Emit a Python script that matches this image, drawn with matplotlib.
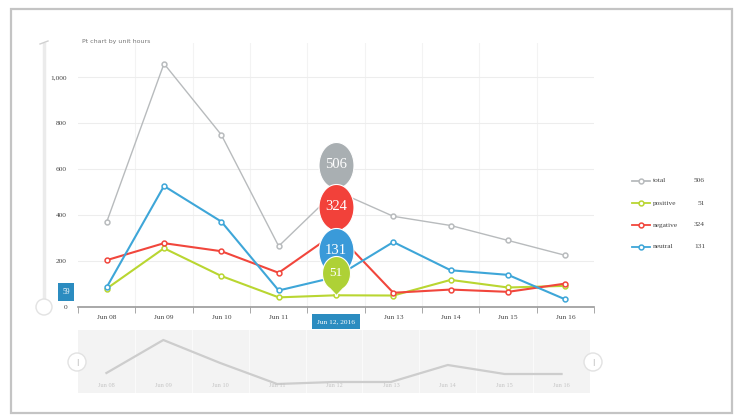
"""
Sentiment line chart with balloon tooltips and a navigator strip.
"""

import numpy as np
import matplotlib
matplotlib.use("Agg")
import matplotlib.pyplot as plt
from matplotlib.path import Path
from matplotlib.lines import Line2D
from matplotlib.patches import Rectangle, Ellipse

# ---- data ----
dates = ["Jun 08", "Jun 09", "Jun 10", "Jun 11", "Jun 12",
         "Jun 13", "Jun 14", "Jun 15", "Jun 16"]
total = [370, 1060, 750, 265, 506, 395, 355, 290, 225]
positive = [80, 256, 135, 42, 51, 50, 118, 85, 92]
negative = [204, 278, 243, 149, 324, 62, 76, 66, 102]
neutral = [86, 527, 372, 72, 131, 283, 160, 140, 33]
navigator = [400, 1060, 600, 180, 220, 220, 560, 380, 380]
y_ticks = [0, 200, 400, 600, 800, 1000]
y_labels = ["0", "200", "400", "600", "800", "1,000"]
hover_index = 4
hover_label = "Jun 12, 2016"
cursor_label = "59"
title = "Pt chart by unit hours"

series = [
    ("total", total, "#b8bbbd", "#a9afb2"),
    ("positive", positive, "#b9d631", "#aed136"),
    ("negative", negative, "#f1463c", "#f2413a"),
    ("neutral", neutral, "#3ea6d8", "#3a9ad9"),
]
balloon_order = ["total", "negative", "neutral", "positive"]

W, H = 739, 417
fig = plt.figure(figsize=(W / 100, H / 100), dpi=100, facecolor="white")


def fx(x):
    return x / W


def fy(y):
    return 1 - y / H


def handle(cx, cy, r, z=5):
    # round white knob, sized in pixels
    fig.patches.append(Ellipse((fx(cx), fy(cy)), 2 * r / W, 2 * r / H,
                               transform=fig.transFigure, facecolor="white",
                               edgecolor="#e2e2e2", linewidth=1, zorder=z))


# card frame
fig.patches.append(Rectangle((fx(11), fy(413)), fx(721), 404 / H,
                             transform=fig.transFigure, facecolor="white",
                             edgecolor="#c4c4c4", linewidth=1.6, zorder=-5))

serif = "Liberation Serif"

# ---- main chart ----
ax = fig.add_axes([fx(78), fy(307), fx(516), (307 - 43) / H])
ax.set_facecolor("none")
ax.set_xlim(-0.5, len(dates) - 0.5)
ax.set_ylim(0, 1150)
for side in ["top", "right", "left"]:
    ax.spines[side].set_visible(False)
ax.spines["bottom"].set_color("#9a9a9a")
ax.spines["bottom"].set_linewidth(1.2)
ax.set_yticks(y_ticks)
ax.set_yticklabels(y_labels, fontsize=5.3, family=serif, color="#444444")
ax.tick_params(axis="y", length=0, pad=8)
ax.set_xticks(range(len(dates)))
xl = list(dates)
xl[hover_index] = ""
ax.set_xticklabels(xl, fontsize=5.3, family=serif, color="#444444")
ax.tick_params(axis="x", which="major", length=0, pad=6)
ax.set_xticks(np.arange(-0.5, len(dates), 1), minor=True)
ax.tick_params(axis="x", which="minor", length=4, color="#9a9a9a")
ax.grid(axis="y", color="#ededed", linewidth=0.8)
for m in np.arange(0.5, len(dates) - 0.5, 1):
    ax.axvline(m, color="#f3f3f3", linewidth=0.8, zorder=0)

x = np.arange(len(dates))
for name, vals, color, _ in series:
    lw = 1.0 if name == "total" else 1.5
    ax.plot(x, vals, color=color, linewidth=lw, marker="o", markersize=3.5,
            markerfacecolor="white", markeredgecolor=color,
            markeredgewidth=1.1, zorder=3)


def balloon(rx, ry, c):
    th = np.radians(np.linspace(-62, 242, 80))
    verts = [(0, 0)] + list(zip(rx * np.cos(th), c + ry * np.sin(th))) + [(0, 0)]
    codes = [Path.MOVETO] + [Path.LINETO] * len(th) + [Path.CLOSEPOLY]
    return Path(verts, codes), 0.72 * 2 * (c + ry)


sizes = {"total": (17.5, 23, 26), "negative": (17.5, 23, 26),
         "neutral": (17.5, 23, 26), "positive": (14, 17, 22)}
lookup = {s[0]: s for s in series}
for name in balloon_order:
    _, vals, _, bcolor = lookup[name]
    rx, ry, c = sizes[name]
    path, ms = balloon(rx, ry, c)
    ax.plot([hover_index], [vals[hover_index]], marker=path, markersize=ms,
            markerfacecolor=bcolor, markeredgecolor="white",
            markeredgewidth=0.8, linestyle="none", zorder=5, clip_on=False)
    ax.annotate(str(vals[hover_index]), (hover_index, vals[hover_index]),
                xytext=(0, c * 0.72), textcoords="offset points",
                ha="center", va="center", color="white",
                fontsize=10.5 if name != "positive" else 9.5,
                family=serif, zorder=6)

ax.text(hover_index, -0.055, hover_label, transform=ax.get_xaxis_transform(),
        ha="center", va="center", fontsize=5.3, family=serif, color="white",
        bbox=dict(boxstyle="square,pad=0.7", facecolor="#2b8cc0",
                  edgecolor="none"), clip_on=False)

fig.text(fx(66), fy(292), cursor_label, ha="center", va="center",
         fontsize=5.5, family=serif, color="white",
         bbox=dict(boxstyle="square,pad=0.6", facecolor="#2b8cc0",
                   edgecolor="none"))

fig.text(fx(82), fy(41), title, fontsize=4.5, color="#777777", va="center")

# left scroller
fig.add_artist(Line2D([fx(44), fx(44)], [fy(44), fy(298)],
                      color="#ebebeb", linewidth=2.5, transform=fig.transFigure))
fig.add_artist(Line2D([fx(40), fx(48)], [fy(44), fy(41)],
                      color="#d0d0d0", linewidth=1, transform=fig.transFigure))
handle(44, 307, 8)

# ---- legend ----
legend_values = [total[hover_index], positive[hover_index],
                 negative[hover_index], neutral[hover_index]]
for i, ((name, _, color, _), v) in enumerate(zip(series, legend_values)):
    yy = fy(181 + i * 22)
    fig.add_artist(Line2D([fx(632), fx(650)], [yy, yy], color=color,
                          linewidth=1.3, transform=fig.transFigure))
    fig.add_artist(Line2D([fx(641)], [yy], color=color, marker="o",
                          markersize=3.5, markerfacecolor="white",
                          markeredgewidth=1.1, transform=fig.transFigure))
    fig.text(fx(653), yy, name, fontsize=5.3, family=serif, color="#444444",
             va="center")
    fig.text(fx(705), yy, str(v), fontsize=5.3, family=serif,
             color="#444444", va="center", ha="right")

# ---- navigator ----
nav = fig.add_axes([fx(78), fy(393), fx(512), 63 / H])
nav.set_facecolor("#f3f3f3")
for s in nav.spines.values():
    s.set_visible(False)
nav.set_xlim(-0.5, len(dates) - 0.5)
nav.set_ylim(0, 1260)
nav.set_xticks([])
nav.set_yticks([])
for m in np.arange(0.5, len(dates) - 0.5, 1):
    nav.axvline(m, color="#fafafa", linewidth=0.8, zorder=0)
nav.plot(x, navigator, color="#cdcdcd", linewidth=1.6)
for i, d in enumerate(dates):
    nav.text(i, 0.12, d, transform=nav.get_xaxis_transform(), ha="center",
             va="center", fontsize=4.5, family=serif, color="#c4c4c4")

for hx in (77, 593):
    handle(hx, 362, 9)
    fig.text(fx(hx), fy(362), "|", ha="center", va="center", fontsize=5,
             color="#aaaaaa", zorder=6)

fig.savefig("out.png", dpi=100, facecolor="white")
